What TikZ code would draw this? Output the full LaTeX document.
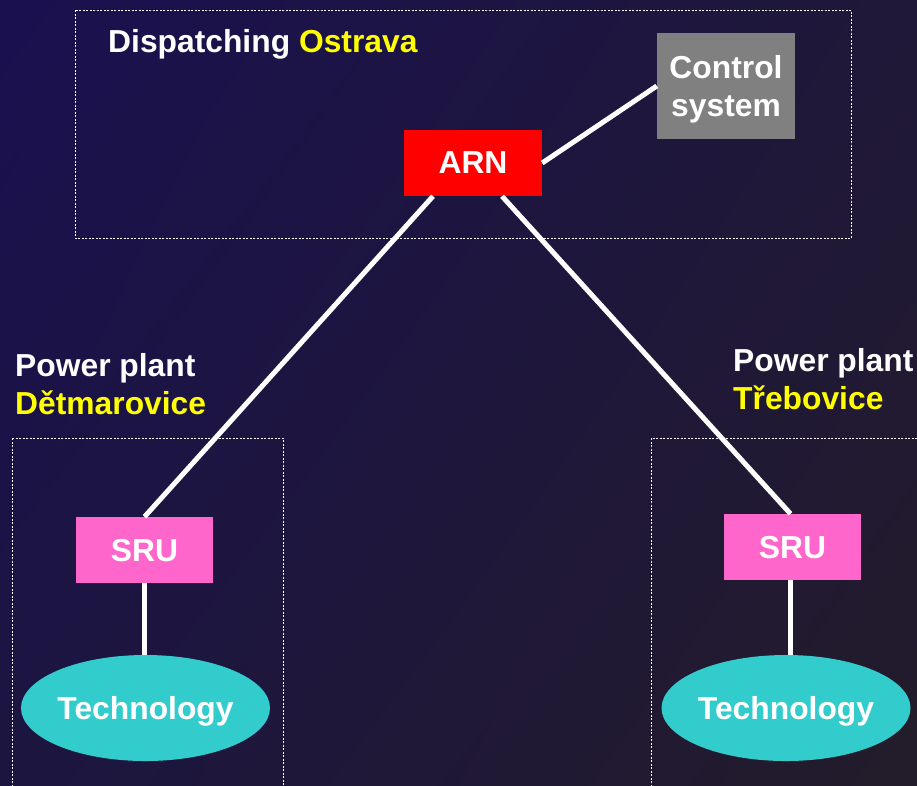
\documentclass[tikz,border=0pt]{standalone}
\usepackage{fontspec}
\setmainfont{Liberation Sans}
\usetikzlibrary{shapes.geometric,calc,shadings}
\definecolor{bgtl}{HTML}{1A1050}
\definecolor{bgtr}{HTML}{1F1838}
\definecolor{bgbl}{HTML}{1C1540}
\definecolor{bgbr}{HTML}{231C2A}
\definecolor{arnred}{HTML}{FF0000}
\definecolor{ctrlgray}{HTML}{808080}
\definecolor{srupink}{HTML}{FF66CC}
\definecolor{techcyan}{HTML}{33CCCC}
\definecolor{yel}{HTML}{FFFF00}
\tikzset{
  txt/.style={font=\fontsize{31.8}{38}\selectfont\bfseries, text=white},
  boxnode/.style={txt, rectangle, inner sep=0pt, minimum width=137pt, minimum height=66pt, text depth=0pt},
  technode/.style={txt, ellipse, inner sep=0pt, fill=techcyan, minimum width=248pt, minimum height=106pt, text depth=0pt},
  link/.style={white, line width=5pt},
  group/.style={white, line width=0.8pt, dash pattern=on 2pt off 1.5pt},
  label/.style={txt, inner sep=0pt, anchor=base west}
}
\begin{document}
\begin{tikzpicture}[x=1pt,y=-1pt]
\useasboundingbox (0,0) rectangle (917,785);
\shade[upper left=bgtl, upper right=bgtr, lower left=bgbl, lower right=bgbr] (0,0) rectangle (917,785);
% group frames
\draw[group] (75,10) rectangle (851,238);
\draw[group] (12,438) -- (283,438) -- (283,790);
\draw[group] (12,790) -- (12,438);
\draw[group] (651,790) -- (651,438) -- (922,438);
% labels
\node[label] (disp) at (108,52.5) {Dispatching \textcolor{yel}{Ostrava}};
\node[label] (pp1) at (15,376) {Power plant};
\node[label] (pp1n) at (15,414) {\textcolor{yel}{Dětmarovice}};
\node[label] (pp2) at (733,371) {Power plant};
\node[label] (pp2n) at (733,409) {\textcolor{yel}{Třebovice}};
% nodes
\node[boxnode, fill=arnred, minimum width=138pt] (arn) at (473,163) {ARN};
\node[boxnode, fill=ctrlgray, minimum width=138pt, minimum height=106pt, align=center] (ctrl) at (726,86) {Control\\system};
\node[boxnode, fill=srupink] (srul) at (144.5,550) {SRU};
\node[boxnode, fill=srupink] (srur) at (792.5,547) {SRU};
\node[technode] (techl) at (145.5,708) {Technology};
\node[technode] (techr) at (786,708) {Technology};
% connectors
\draw[link] (arn.east) -- (ctrl.west);
\draw[link] ([xshift=-40pt]arn.south) -- (srul.north);
\draw[link] ([xshift=29pt]arn.south) -- ([xshift=-2pt]srur.north);
\draw[link] (srul.south) -- (srul.south |- techl.north);
\draw[link] ([xshift=-2pt]srur.south) -- ([xshift=-2pt]srur.south |- techr.north);
\end{tikzpicture}
\end{document}
